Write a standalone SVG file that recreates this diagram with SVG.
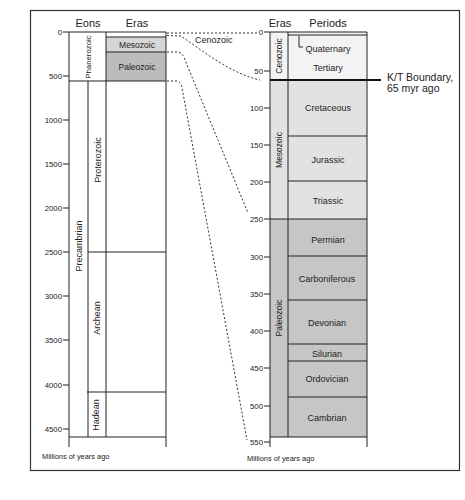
<svg xmlns="http://www.w3.org/2000/svg" width="465" height="500" viewBox="0 0 465 500">
<style>
text{font-family:"Liberation Sans",Arial,sans-serif;fill:#222}
.hd{font-size:11px}
.lb{font-size:8.5px;text-anchor:middle}
.pl{font-size:9px;text-anchor:middle}
.tk{font-size:7.8px;text-anchor:end}
.cap{font-size:7.4px}
.ln{stroke:#222;stroke-width:1;fill:none}
.dash{stroke:#333;stroke-width:1;fill:none;stroke-dasharray:2,2}
</style>
<rect x="0" y="0" width="465" height="500" fill="#fff"/>
<rect x="30.5" y="10.5" width="429" height="460" fill="none" stroke="#333" stroke-width="1.2"/>

<g id="left-chart">
  <text class="hd" x="88" y="27" text-anchor="middle">Eons</text>
  <text class="hd" x="137" y="27" text-anchor="middle">Eras</text>
  <g id="left-axis">
    <line class="ln" x1="69" y1="32" x2="69" y2="447"/>
    <path class="ln" d="M63 32H69M63 76H69M63 120H69M63 164H69M63 208H69M63 252H69M63 296H69M63 340H69M63 385H69M63 429H69"/>
    <text class="tk" x="62" y="34.8">0</text>
    <text class="tk" x="62" y="78.8">500</text>
    <text class="tk" x="62" y="122.8">1000</text>
    <text class="tk" x="62" y="166.8">1500</text>
    <text class="tk" x="62" y="210.8">2000</text>
    <text class="tk" x="62" y="254.8">2500</text>
    <text class="tk" x="62" y="298.8">3000</text>
    <text class="tk" x="62" y="342.8">3500</text>
    <text class="tk" x="62" y="387.8">4000</text>
    <text class="tk" x="62" y="431.8">4500</text>
    <text class="cap" x="42" y="459">Millions of years ago</text>
  </g>
  <g id="left-eras-fill">
    <rect x="106" y="37" width="60" height="15" fill="#d6d6d6"/>
    <rect x="106" y="52" width="60" height="29" fill="#bcbcbc"/>
  </g>
  <g id="left-frame">
    <path class="ln" d="M69 32H166M106 37H166M106 52H166M69 81H166M106 32V437M166 32V447M88 81V437M88 252H166M87 392H166M69 437H166"/>
  </g>
  <g id="phanerozoic"><text class="lb" style="font-size:7.8px" transform="translate(91 57) rotate(-90)">Phanerozoic</text></g>
  <g id="precambrian"><text class="lb" style="font-size:9px" transform="translate(82 246) rotate(-90)">Precambrian</text></g>
  <g id="proterozoic"><text class="lb" style="font-size:9px" transform="translate(100.5 160) rotate(-90)">Proterozoic</text></g>
  <g id="archean"><text class="lb" style="font-size:9px" transform="translate(100 318) rotate(-90)">Archean</text></g>
  <g id="hadean"><text class="lb" style="font-size:9px" transform="translate(99 415) rotate(-90)">Hadean</text></g>
  <g id="mesozoic-l"><text class="lb" x="137" y="48">Mesozoic</text></g>
  <g id="paleozoic-l"><text class="lb" x="137" y="70">Paleozoic</text></g>
</g>

<g id="right-chart">
  <text class="hd" x="280" y="27" text-anchor="middle">Eras</text>
  <text class="hd" x="328" y="27" text-anchor="middle">Periods</text>
  <g id="right-fill">
    <rect x="270" y="32" width="97" height="48" fill="#f3f3f3"/>
    <rect x="270" y="80" width="97" height="139" fill="#e2e2e2"/>
    <rect x="270" y="219" width="97" height="218" fill="#c6c6c6"/>
  </g>
  <g id="right-axis">
    <line class="ln" x1="270" y1="32" x2="270" y2="447"/>
    <path class="ln" d="M264 32H270M264 71H270M264 108H270M264 145H270M264 182H270M264 219H270M264 257H270M264 294H270M264 331H270M264 368H270M264 406H270M264 442H270"/>
    <text class="tk" x="263" y="34.8">0</text>
    <text class="tk" x="263" y="73.8">50</text>
    <text class="tk" x="263" y="110.8">100</text>
    <text class="tk" x="263" y="147.8">150</text>
    <text class="tk" x="263" y="184.8">200</text>
    <text class="tk" x="263" y="221.8">250</text>
    <text class="tk" x="263" y="259.8">300</text>
    <text class="tk" x="263" y="296.8">350</text>
    <text class="tk" x="263" y="333.8">400</text>
    <text class="tk" x="263" y="370.8">450</text>
    <text class="tk" x="263" y="408.8">500</text>
    <text class="tk" x="263" y="444.8">550</text>
    <text class="cap" x="247" y="461">Millions of years ago</text>
  </g>
  <g id="right-frame">
    <path class="ln" d="M270 32H367M288 35H367M288 32V437M367 32V447M288 136H367M288 181H367M270 219H367M288 256H367M288 300H367M288 344H367M288 361H367M288 397H367M270 437H367M299 36V47H303"/>
    <line x1="270" y1="80" x2="381" y2="80" stroke="#111" stroke-width="2"/>
  </g>
  <g id="cenozoic"><text class="lb" transform="translate(282 56) rotate(-90)">Cenozoic</text></g>
  <g id="mesozoic-r"><text class="lb" transform="translate(282 150) rotate(-90)">Mesozoic</text></g>
  <g id="paleozoic-r"><text class="lb" transform="translate(282 318) rotate(-90)">Paleozoic</text></g>
  <g id="quaternary"><text class="pl" x="328" y="51.5">Quaternary</text></g>
  <g id="tertiary"><text class="pl" x="328" y="70.5">Tertiary</text></g>
  <g id="cretaceous"><text class="pl" x="328" y="110.5">Cretaceous</text></g>
  <g id="jurassic"><text class="pl" x="328" y="162.5">Jurassic</text></g>
  <g id="triassic"><text class="pl" x="328" y="203.5">Triassic</text></g>
  <g id="permian"><text class="pl" x="328" y="242.5">Permian</text></g>
  <g id="carboniferous"><text class="pl" x="327" y="281.5">Carboniferous</text></g>
  <g id="devonian"><text class="pl" x="327" y="325.5">Devonian</text></g>
  <g id="silurian"><text class="pl" x="327" y="356.5">Silurian</text></g>
  <g id="ordovician"><text class="pl" x="327" y="381.5">Ordovician</text></g>
  <g id="cambrian"><text class="pl" x="327" y="420.5">Cambrian</text></g>
  <g id="kt-label">
    <text x="387" y="81" style="font-size:10.5px">K/T Boundary,</text>
    <text x="387" y="92" style="font-size:10.5px">65 myr ago</text>
  </g>
</g>

<g id="connectors">
  <path class="dash" d="M167 33H259"/>
  <path class="dash" d="M167 35.5L181 36C204 52 232 74 260 80"/>
  <path class="dash" d="M167 52H178Q183 53 185 60L248 213"/>
  <path class="dash" d="M167 81H177Q181 82 182 88L247 440"/>
  <text x="195" y="43" style="font-size:9px">Cenozoic</text>
</g>
</svg>
